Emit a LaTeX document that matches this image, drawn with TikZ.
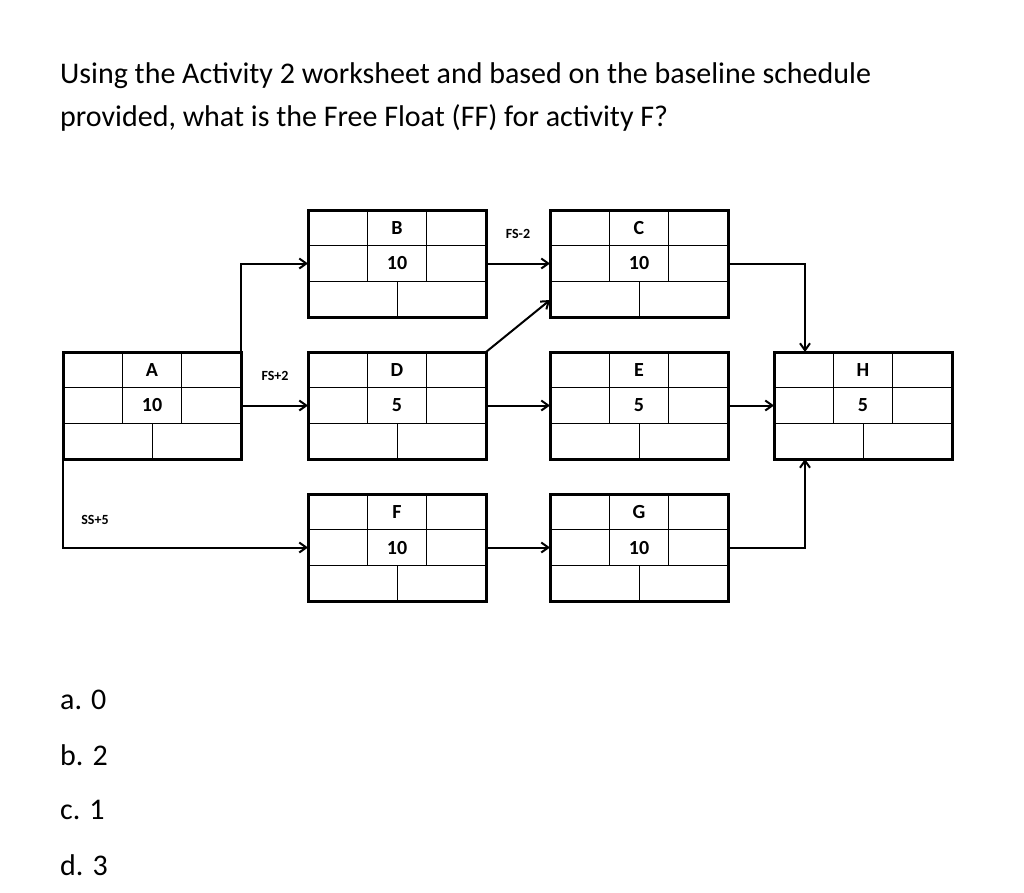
\documentclass[tikz,border=0pt]{standalone}
\usepackage{fontspec}
\setmainfont{Carlito}
\usetikzlibrary{arrows.meta}
\begin{document}
\begin{tikzpicture}[x=1pt,y=-1pt,
  conn/.style={line width=2pt,-{Straight Barb[length=7pt,width=10pt]}},
  lbl/.style={font=\bfseries\fontsize{14}{16}\selectfont},
  txt/.style={anchor=west,inner sep=0,font=\fontsize{30}{36}\selectfont}]
\useasboundingbox (0,0) rectangle (1024,892);
\newcommand\actbox[4]{%
  \begin{scope}[shift={(#1,#2)}]
  \draw[line width=1pt] (0,35.7)--(178,35.7) (0,71.3)--(178,71.3)
    (59.3,0)--(59.3,71.3) (118.7,0)--(118.7,71.3) (89,71.3)--(89,107);
  \draw[line width=3pt] (0,0) rectangle (178,107);
  \node[font=\bfseries\fontsize{20}{22}\selectfont] at (89,18) {#3};
  \node[font=\bfseries\fontsize{20}{22}\selectfont] at (89,53.5) {#4};
  \coordinate (#3w) at (0,53.5); \coordinate (#3e) at (178,53.5);
  \coordinate (#3nw) at (0,0); \coordinate (#3ne) at (178,0);
  \coordinate (#3sw) at (0,107); \coordinate (#3se) at (178,107);
  \end{scope}}
\node[txt] (q1) at (60,76) {Using the Activity 2 worksheet and based on the baseline schedule};
\node[txt] (q2) at (60,118) {provided, what is the Free Float (FF) for activity F?};
\actbox{63}{352}{A}{10}
\actbox{308}{210}{B}{10}
\actbox{550}{210}{C}{10}
\actbox{308}{352}{D}{5}
\actbox{550}{352}{E}{5}
\actbox{774}{352}{H}{5}
\actbox{308}{494}{F}{10}
\actbox{550}{494}{G}{10}
\draw[conn] (Ane) |- (Bw);
\draw[conn] (Ae) -- (Dw);
\draw[conn] (Asw) |- (Fw);
\draw[conn] (Be) -- (Cw);
\draw[conn] (Dne) -- (550,300);
\draw[conn] (De) -- (Ew);
\draw[conn] (Ee) -- (Hw);
\draw[conn] (Fe) -- (Gw);
\draw[conn] (Ce) -| (805,352);
\draw[conn] (Ge) -| (805,459);
\node[lbl] (l1) at (95,520) {SS+5};
\node[lbl] (l2) at (275,376) {FS+2};
\node[lbl] (l3) at (518,234) {FS-2};
\node[txt] (a) at (60,700) {a. 0};
\node[txt] (b) at (60,755) {b. 2};
\node[txt] (c) at (60,810) {c. 1};
\node[txt] (d) at (60,865) {d. 3};
\end{tikzpicture}
\end{document}
